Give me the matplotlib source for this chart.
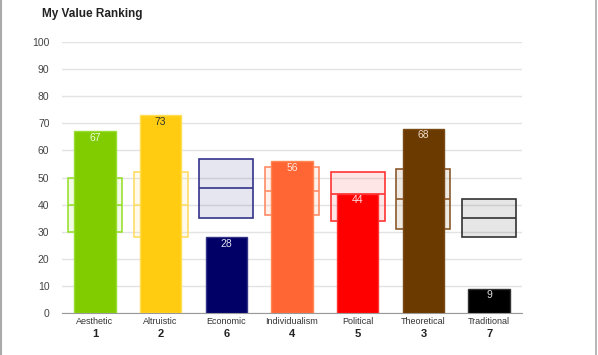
import numpy as np
import matplotlib.pyplot as plt
from matplotlib import transforms
from matplotlib.lines import Line2D

plt.rcParams['font.family'] = ['Liberation Sans', 'DejaVu Sans']

categories = ['Aesthetic', 'Altruistic', 'Economic', 'Individualism', 'Political', 'Theoretical', 'Traditional']
ranks = ['1', '2', '6', '4', '5', '3', '7']
scores = [67, 73, 28, 56, 44, 68, 9]
box_low = [30, 28, 35, 36, 34, 31, 28]
box_mid = [40, 40, 46, 45, 44, 42, 35]
box_high = [50, 52, 57, 54, 52, 53, 42]

bar_colors = ['#80cc00', '#ffcc11', '#000066', '#ff6633', '#ff0000', '#6b3a00', '#000000']
bar_edges = ['#99dd33', '#ffdd55', '#333388', '#ff8855', '#ff3333', '#7a4a14', '#333333']
box_edges = ['#99e033', '#ffdd66', '#33338a', '#ff8c66', '#ff3333', '#8b5a2b', '#333333']
label_colors = ['#eef8dd', '#333333', '#e0e0ee', '#ffe8dd', '#ffe0e0', '#eeddcc', '#dddddd']

fig = plt.figure(figsize=(5.98, 3.55), dpi=100)
ax = fig.add_axes([62 / 598, 1 - 313 / 355, 460 / 598, 271 / 355])

x = np.arange(len(categories))

# boxes behind the bars
for i in range(len(categories)):
    ax.bar(x[i], box_high[i] - box_low[i], bottom=box_low[i], width=0.82,
           facecolor=box_edges[i], alpha=0.12, edgecolor='none', zorder=2)
    ax.bar(x[i], box_high[i] - box_low[i], bottom=box_low[i], width=0.82,
           facecolor='none', edgecolor=box_edges[i], linewidth=1.2, zorder=2)
    ax.hlines(box_mid[i], x[i] - 0.41, x[i] + 0.41, color=box_edges[i], linewidth=1.2, zorder=2)

bars = ax.bar(x, scores, width=0.63, color=bar_colors, edgecolor=bar_edges, linewidth=1, zorder=3)
for i, b in enumerate(bars):
    ax.text(x[i], scores[i] - 0.6, str(scores[i]), ha='center', va='top',
            fontsize=7.5, color=label_colors[i], zorder=4)

ax.set_xlim(-0.5, len(categories) - 0.5)
ax.set_ylim(0, 100)
ax.set_yticks(np.arange(0, 101, 10))
ax.yaxis.grid(True, color='#e3e3e3', linewidth=1)
ax.set_axisbelow(True)
for s in ['top', 'right', 'left']:
    ax.spines[s].set_visible(False)
ax.spines['bottom'].set_color('#999999')
ax.tick_params(axis='y', length=0, labelsize=7.5, labelcolor='#444444', pad=9)
ax.tick_params(axis='x', length=0, labelsize=6.5, labelcolor='#333333', pad=3)
ax.set_xticks(x)
ax.set_xticklabels(categories)

trans = transforms.blended_transform_factory(ax.transData, ax.transAxes)
for i, r in enumerate(ranks):
    ax.text(x[i], -0.078, r, transform=trans, ha='center', va='center',
            fontsize=8, fontweight='bold', color='#222222')

fig.text(42 / 598, 1 - 14 / 355, 'My Value Ranking', ha='left', va='center',
         fontsize=8.5, fontweight='bold', color='#222222')

# frame lines of the screenshot
fig.add_artist(Line2D([1 / 598, 1 / 598], [0, 1], transform=fig.transFigure, color='#aaaaaa', linewidth=1.5))
fig.add_artist(Line2D([596 / 598, 596 / 598], [0, 1], transform=fig.transFigure, color='#aaaaaa', linewidth=1.2))

fig.savefig('out.png', dpi=100)
